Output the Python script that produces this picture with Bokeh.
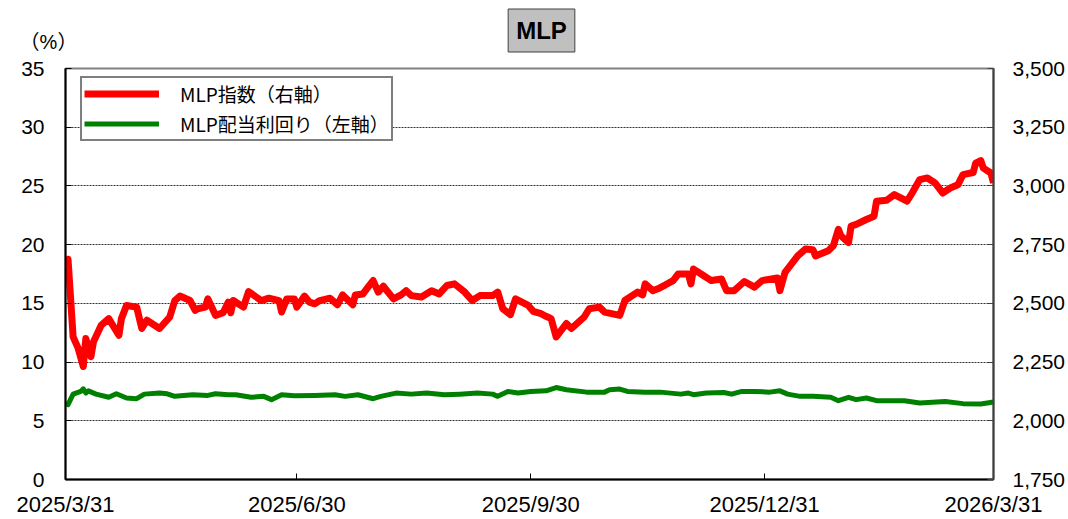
import pandas as pd
from bokeh.plotting import figure
from bokeh.models import (Range1d, LinearAxis, FixedTicker, NumeralTickFormatter,
                          CustomJSTickFormatter, Legend, LegendItem, Label)
from bokeh.embed import file_html
from bokeh.resources import INLINE

# ---- data ----
red_dates = [
    "2025-03-31", "2025-04-01", "2025-04-03", "2025-04-05", "2025-04-07", "2025-04-08", "2025-04-10",
    "2025-04-11", "2025-04-14", "2025-04-17", "2025-04-21", "2025-04-22", "2025-04-24", "2025-04-28",
    "2025-04-30", "2025-05-02", "2025-05-07", "2025-05-11", "2025-05-13", "2025-05-15", "2025-05-19",
    "2025-05-21", "2025-05-22", "2025-05-25", "2025-05-26", "2025-05-29", "2025-06-01", "2025-06-03",
    "2025-06-04", "2025-06-05", "2025-06-09", "2025-06-11", "2025-06-16", "2025-06-19", "2025-06-23",
    "2025-06-24", "2025-06-26", "2025-06-29", "2025-06-30", "2025-07-03", "2025-07-05", "2025-07-07",
    "2025-07-09", "2025-07-13", "2025-07-16", "2025-07-18", "2025-07-22", "2025-07-23", "2025-07-26",
    "2025-07-28", "2025-07-30", "2025-08-01", "2025-08-03", "2025-08-07", "2025-08-10", "2025-08-12",
    "2025-08-14", "2025-08-18", "2025-08-22", "2025-08-25", "2025-08-28", "2025-08-31", "2025-09-04",
    "2025-09-07", "2025-09-10", "2025-09-15", "2025-09-17", "2025-09-19", "2025-09-22", "2025-09-24",
    "2025-09-29", "2025-10-01", "2025-10-04", "2025-10-06", "2025-10-08", "2025-10-10", "2025-10-14",
    "2025-10-16", "2025-10-21", "2025-10-23", "2025-10-27", "2025-10-29", "2025-11-04", "2025-11-06",
    "2025-11-11", "2025-11-13", "2025-11-14", "2025-11-17", "2025-11-19", "2025-11-22", "2025-11-25",
    "2025-11-27", "2025-12-01", "2025-12-02", "2025-12-03", "2025-12-06", "2025-12-10", "2025-12-14",
    "2025-12-16", "2025-12-19", "2025-12-23", "2025-12-27", "2025-12-30", "2026-01-05", "2026-01-06",
    "2026-01-08", "2026-01-13", "2026-01-16", "2026-01-19", "2026-01-20", "2026-01-25", "2026-01-27",
    "2026-01-29", "2026-01-30", "2026-02-02", "2026-02-03", "2026-02-05", "2026-02-09", "2026-02-12",
    "2026-02-13", "2026-02-17", "2026-02-20", "2026-02-25", "2026-02-27", "2026-03-02", "2026-03-05",
    "2026-03-08", "2026-03-11", "2026-03-14", "2026-03-17", "2026-03-19", "2026-03-23", "2026-03-24",
    "2026-03-26", "2026-03-27", "2026-03-30", "2026-03-31",
]
red_values = [
    2640, 2688, 2357, 2308, 2231, 2350, 2273,
    2336, 2406, 2435, 2364, 2435, 2491, 2484,
    2393, 2428, 2393, 2442, 2512, 2531, 2512,
    2470, 2477, 2484, 2519, 2449, 2460, 2505,
    2460, 2512, 2484, 2550, 2512, 2522, 2512,
    2463, 2519, 2519, 2484, 2531, 2505, 2498,
    2512, 2522, 2494, 2536, 2494, 2536, 2540,
    2569, 2597, 2548, 2573, 2519, 2536, 2554,
    2533, 2527, 2554, 2540, 2576, 2583, 2548,
    2512, 2533, 2533, 2548, 2477, 2452, 2519,
    2491, 2466, 2456, 2445, 2435, 2357, 2414,
    2393, 2442, 2477, 2484, 2463, 2449, 2512,
    2548, 2536, 2583, 2554, 2562, 2579, 2597,
    2625, 2625, 2583, 2646, 2625, 2597, 2604,
    2554, 2554, 2593, 2569, 2597, 2608, 2554,
    2632, 2702, 2731, 2728, 2702, 2724, 2745,
    2815, 2787, 2759, 2829, 2836, 2857, 2871,
    2935, 2939, 2963, 2935, 2970, 3027, 3034,
    3013, 2970, 2991, 3005, 3048, 3057, 3097,
    3108, 3076, 3055, 3013,
]

green_dates = [
    "2025-03-31", "2025-04-01", "2025-04-03", "2025-04-06", "2025-04-07", "2025-04-08", "2025-04-09",
    "2025-04-12", "2025-04-17", "2025-04-20", "2025-04-24", "2025-04-28", "2025-05-01", "2025-05-07",
    "2025-05-10", "2025-05-13", "2025-05-20", "2025-05-26", "2025-05-29", "2025-06-03", "2025-06-06",
    "2025-06-12", "2025-06-17", "2025-06-20", "2025-06-24", "2025-06-29", "2025-07-07", "2025-07-15",
    "2025-07-19", "2025-07-24", "2025-07-30", "2025-08-02", "2025-08-08", "2025-08-14", "2025-08-20",
    "2025-08-27", "2025-09-02", "2025-09-09", "2025-09-15", "2025-09-17", "2025-09-21", "2025-09-25",
    "2025-09-30", "2025-10-06", "2025-10-10", "2025-10-14", "2025-10-22", "2025-10-29", "2025-10-31",
    "2025-11-04", "2025-11-07", "2025-11-14", "2025-11-20", "2025-11-28", "2025-12-01", "2025-12-03",
    "2025-12-08", "2025-12-15", "2025-12-18", "2025-12-22", "2025-12-27", "2026-01-02", "2026-01-06",
    "2026-01-09", "2026-01-14", "2026-01-19", "2026-01-26", "2026-01-29", "2026-02-02", "2026-02-05",
    "2026-02-09", "2026-02-13", "2026-02-24", "2026-03-02", "2026-03-12", "2026-03-19", "2026-03-26",
    "2026-03-31",
]
green_values = [
    6.51, 6.37, 7.27, 7.50, 7.72, 7.36, 7.55,
    7.27, 7.00, 7.30, 6.94, 6.88, 7.27, 7.36,
    7.30, 7.08, 7.22, 7.16, 7.30, 7.22, 7.22,
    7.00, 7.08, 6.80, 7.22, 7.13, 7.16, 7.22,
    7.08, 7.22, 6.88, 7.08, 7.36, 7.27, 7.36,
    7.22, 7.27, 7.36, 7.27, 7.08, 7.50, 7.36,
    7.50, 7.55, 7.83, 7.64, 7.44, 7.44, 7.64,
    7.70, 7.50, 7.44, 7.44, 7.27, 7.36, 7.22,
    7.36, 7.41, 7.27, 7.50, 7.50, 7.44, 7.55,
    7.27, 7.08, 7.08, 7.00, 6.71, 7.00, 6.80,
    6.94, 6.71, 6.71, 6.51, 6.65, 6.46, 6.43,
    6.60,
]

x_ticks = ["2025-03-31", "2025-06-30", "2025-09-30", "2025-12-31", "2026-03-31"]
left_ticks = [0, 5, 10, 15, 20, 25, 30, 35]
right_ticks = [1750, 2000, 2250, 2500, 2750, 3000, 3250, 3500]

title_text = "MLP"
unit_text = "（%）"
red_label = "MLP指数（右軸）"
green_label = "MLP配当利回り（左軸）"

# ---- figure ----
FONT = "Noto Sans CJK JP"
NUMFONT = "Liberation Sans"
rx = pd.to_datetime(red_dates)
gx = pd.to_datetime(green_dates)
tick_ms = [pd.Timestamp(t).value / 1e6 for t in x_ticks]

p = figure(width=1068, height=519, x_axis_type="datetime",
           x_range=Range1d(tick_ms[0], tick_ms[-1]),
           y_range=Range1d(left_ticks[0], left_ticks[-1]),
           output_backend="svg", toolbar_location=None,
           min_border_left=65, min_border_right=75, min_border_top=68, min_border_bottom=37)
p.extra_y_ranges = {"right": Range1d(right_ticks[0], right_ticks[-1])}

p.outline_line_color = "#808080"
p.outline_line_width = 2
p.background_fill_color = "white"
p.border_fill_color = "white"

# x axis
xa = p.xaxis[0]
xa.ticker = FixedTicker(ticks=tick_ms)
xa.formatter = CustomJSTickFormatter(code="""
const d = new Date(tick);
return d.getUTCFullYear() + "/" + (d.getUTCMonth() + 1) + "/" + d.getUTCDate();
""")
xa.major_label_text_font = NUMFONT
xa.major_label_text_font_size = "22px"
xa.major_label_text_color = "black"
xa.major_label_standoff = 12
xa.axis_line_color = "black"
xa.axis_line_width = 2
xa.major_tick_in = 6
xa.major_tick_out = 0
xa.major_tick_line_color = "black"
xa.minor_tick_line_color = None

# left axis
ya = p.yaxis[0]
ya.ticker = FixedTicker(ticks=left_ticks)
ya.major_label_text_font = NUMFONT
ya.major_label_text_font_size = "21px"
ya.major_label_text_color = "black"
ya.major_label_standoff = 21
ya.axis_line_color = "black"
ya.axis_line_width = 2
ya.major_tick_in = 6
ya.major_tick_out = 0
ya.major_tick_line_color = "black"
ya.minor_tick_line_color = None

# right axis
ra = LinearAxis(y_range_name="right", ticker=FixedTicker(ticks=right_ticks),
                formatter=NumeralTickFormatter(format="0,0"))
ra.major_label_text_font = NUMFONT
ra.major_label_text_font_size = "21px"
ra.major_label_text_color = "black"
ra.major_label_standoff = 19
ra.axis_line_color = "#404040"
ra.axis_line_width = 2
ra.major_tick_in = 6
ra.major_tick_out = 0
ra.major_tick_line_color = "#404040"
ra.minor_tick_line_color = None
p.add_layout(ra, "right")

# grid
p.xgrid.grid_line_color = None
p.ygrid.grid_line_color = "#333333"
p.ygrid.grid_line_dash = "2 1"
p.ygrid.grid_line_width = 1

# lines
g_r = p.line(gx, green_values, line_color="#008000", line_width=5, line_join="round")
r_r = p.line(rx, red_values, line_color="#ff0000", line_width=7, line_join="round",
             y_range_name="right")

legend = Legend(items=[LegendItem(label=red_label, renderers=[r_r]),
                       LegendItem(label=green_label, renderers=[g_r])],
                location=(15, 338), orientation="vertical")
legend.label_text_font = FONT
legend.label_text_font_size = "19px"
legend.label_text_color = "black"
legend.glyph_width = 75
legend.glyph_height = 27
legend.label_height = 27
legend.label_standoff = 21
legend.spacing = 3
legend.padding = 2
legend.margin = 0
legend.border_line_color = "black"
legend.border_line_width = 2
legend.background_fill_color = "white"
legend.background_fill_alpha = 1
p.add_layout(legend, "center")

# title box and unit label, placed in the top side panel (canvas pixel units)
title = Label(x=541, y=30, x_units="canvas", y_units="canvas", text=title_text,
              text_font="Liberation Sans", text_font_style="bold", text_font_size="24px",
              text_color="black", text_align="center", text_baseline="middle",
              background_fill_color="#c0c0c0", border_line_color="#404040",
              border_line_width=1, padding=8)
p.add_layout(title, "above")

unit = Label(x=48, y=41, x_units="canvas", y_units="canvas", text=unit_text,
             text_font="Liberation Sans, Noto Sans CJK JP", text_font_size="20px",
             text_color="black", text_align="center", text_baseline="middle")
p.add_layout(unit, "above")

open("out.html", "w").write(file_html(p, INLINE))
